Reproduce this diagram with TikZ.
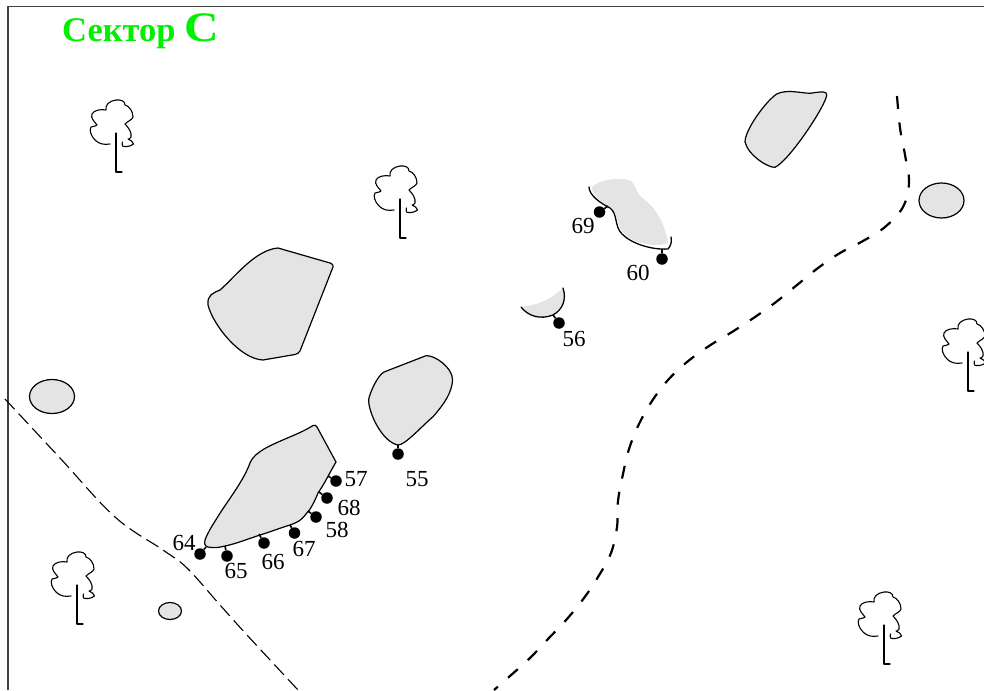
\documentclass[tikz,border=0pt]{standalone}
\usepackage{graphicx}
\usepackage{fontspec}
\setmainfont{Liberation Serif}
\definecolor{blobgray}{HTML}{E4E4E4}
\definecolor{titlegreen}{HTML}{00F000}
\tikzset{
  blob/.style={fill=blobgray,draw=black,line width=1.2pt,line join=round},
  blobfill/.style={fill=blobgray,draw=none},
  edgeline/.style={draw=black,line width=1.3pt,line cap=round},
  sitedot/.style={circle,fill=black,inner sep=0pt,minimum size=11.5pt},
  stem/.style={draw=black,line width=1.6pt},
  numlabel/.style={font=\fontsize{23}{23}\selectfont,text=black,inner sep=0pt},
  treeline/.style={draw=black,line width=1.1pt,line cap=round,line join=round},
  framed/.style={draw=black!75,line width=1.2pt},
  pics/treemark/.style={code={
    \draw[treeline] (0,0) -- (0,39) -- (6,39);
    \draw[treeline] (-6,11) .. controls (-12,12) and (-17,11) .. (-21,7)
      .. controls (-25,3) and (-27,-3) .. (-25,-6) .. controls (-22,-7) and (-19,-7) .. (-19,-8)
      .. controls (-21,-11) and (-26,-15) .. (-24,-19) .. controls (-22,-23) and (-15,-24) .. (-10,-23)
      .. controls (-11,-28) and (-7,-32) .. (0,-33) .. controls (5,-33.500) and (9,-32) .. (9,-28)
      .. controls (13,-27) and (17,-22) .. (17,-16) .. controls (16,-13) and (12,-12) .. (9,-9)
      .. controls (13,-5) and (16,0) .. (15,4) .. controls (14,6) and (13,6) .. (12,6)
      .. controls (15,7) and (17,9) .. (17.500,11) .. controls (14,14) and (8,14) .. (6.500,13) .. controls (6,11) and (6,10) .. (6.500,9);
  }}
}
\begin{document}
\begin{tikzpicture}[x=1pt,y=-1pt]
\useasboundingbox (0,0) rectangle (984,690);
\clip (0,0) rectangle (984,690);
\draw[framed] (8,690) -- (8,6.500) -- (984,6.500);
\node[anchor=base west,inner sep=0pt,text=titlegreen,font=\bfseries] (title) at (62,42)
  {\fontsize{34.500}{36}\selectfont Сектор \fontsize{42}{42}\selectfont\scalebox{1.14}[1]{С}};

% roads
\draw[black,line width=1.1pt,dash pattern=on 14pt off 6pt]
  plot[smooth,tension=0.6] coordinates {(5,399) (60,458) (115,517) (163,550) (187,568) (220,605) (247,635) (298,690)};
\draw[black,line width=2.2pt,dash pattern=on 13pt off 13.500pt]
  plot[smooth,tension=0.6] coordinates {(897,96) (900,128) (905,155) (909,182) (903,207) (885,227) (863,241) (840,253) (818,268) (797,285) (776,302) (755,317) (732,332) (709,346) (687,362) (668,380) (652,401) (639,424) (629,449) (623,474) (618,501) (617,527) (611,553) (598,577) (584,598) (567,619) (548,639) (530,658) (510,676) (494,690)};

% ponds
\draw[blob] (941.5,200.5) ellipse [x radius=22.5,y radius=17.5];
\draw[blob] (52,396.5) ellipse [x radius=22.5,y radius=17];
\draw[blob] (170,611) ellipse [x radius=11.5,y radius=8.5];

% large blobs
\draw[blob] (278,248) -- (330,263) .. controls (333,264) and (333.500,266) .. (333,267) -- (300,351)
  .. controls (299,353) and (297,354) .. (295,354.500) -- (263,360)
  .. controls (240,359) and (213,325) .. (208,305) .. controls (207,295) and (213,293) .. (220,290)
  .. controls (235,277) and (255,250) .. (278,248) -- cycle;
\draw[blob] (426,355.7) -- (384,372) .. controls (378,375) and (370,392) .. (368.7,399.3)
  .. controls (368,412) and (382,442) .. (398,445) .. controls (405,445) and (420,428) .. (433,416.7)
  .. controls (445,403) and (452,392) .. (452.5,380) .. controls (453,368) and (435,355) .. (426,355.7) -- cycle;
\draw[blob] (313,425.500) .. controls (315,425) and (316,425) .. (317,427) -- (336,462) .. controls (330,472) and (325,483) .. (318,493)
  .. controls (314,503) and (310,510) .. (306,514) .. controls (300,522) and (295,523) .. (290,525)
  .. controls (280,528) and (270,532) .. (260,535) .. controls (245,540) and (235,544) .. (225,546)
  .. controls (218,548) and (212,548) .. (208,547) .. controls (204,546) and (204,542) .. (205,540)
  .. controls (208,532) and (212,526) .. (217,518) .. controls (228,500) and (243,482) .. (250,463)
  .. controls (253,456) and (258,453) .. (264,449) .. controls (280,440) and (300,434) .. (313,425.500) -- cycle;
\draw[blob] (826.7,95) .. controls (827,91) and (822,91.5) .. (810,93.3) .. controls (800,93) and (787,89) .. (776.7,94)
  .. controls (765,102) and (745,130) .. (745,142) .. controls (748,155) and (768,168) .. (775,167.3)
  .. controls (790,160) and (826,105) .. (826.7,95) -- cycle;

% half-outlined blobs
\fill[blobfill] (592,187) .. controls (598,180) and (622,176) .. (631,181) .. controls (637,186) and (634,192) .. (645,200)
  .. controls (658,210) and (666,228) .. (668,243) .. controls (655,248) and (630,243) .. (622,231)
  .. controls (616,222) and (618,214) .. (610,207) .. controls (600,201) and (592,195) .. (592,187) -- cycle;
\draw[edgeline] (589,187) .. controls (589,195) and (600,203) .. (610,208) .. controls (618,214) and (614,226) .. (622,234)
  .. controls (632,244) and (652,250) .. (668,249) .. controls (671,246) and (672,241) .. (671,237);
\fill[blobfill] (522,307) .. controls (540,304) and (550,300) .. (563,288)
  .. controls (565,300) and (562,306) .. (553,315) .. controls (545,319) and (530,318) .. (522,307) -- cycle;
\draw[edgeline] (521,307) .. controls (528,316) and (540,320) .. (553,315)
  .. controls (562,310) and (567,300) .. (563,288);

% site markers
\coordinate (s57) at (328,476);
\coordinate (s68) at (319,492);
\coordinate (s58) at (308,511);
\coordinate (s67) at (290,525);
\coordinate (s66) at (259,534);
\coordinate (s65) at (225,546);
\coordinate (s64) at (206,547);
\coordinate (s69) at (608,206);
\coordinate (s60) at (662,249);
\coordinate (s56) at (553,315);
\coordinate (s55) at (398,445);
\node[sitedot] (d57) at (336,481) {};
\node[sitedot] (d68) at (327,498) {};
\node[sitedot] (d58) at (316,517) {};
\node[sitedot] (d67) at (294.5,533) {};
\node[sitedot] (d66) at (264,543) {};
\node[sitedot] (d65) at (227,556) {};
\node[sitedot] (d64) at (200,554) {};
\node[sitedot] (d69) at (599.500,212) {};
\node[sitedot] (d60) at (662,259) {};
\node[sitedot] (d56) at (559,323) {};
\node[sitedot] (d55) at (398,454) {};
\foreach \n in {57,68,58,67,66,65,64,69,60,56,55} \draw[stem] (s\n) -- (d\n);
\node[numlabel] (l57) at (356,479) {57};
\node[numlabel] (l68) at (349,508) {68};
\node[numlabel] (l58) at (337,530) {58};
\node[numlabel] (l67) at (304,549) {67};
\node[numlabel] (l66) at (273,562) {66};
\node[numlabel] (l65) at (236,571) {65};
\node[numlabel] (l64) at (184,543) {64};
\node[numlabel] (l69) at (583,226) {69};
\node[numlabel] (l60) at (638,273) {60};
\node[numlabel] (l56) at (574,339) {56};
\node[numlabel] (l55) at (417,479) {55};

% trees
\pic at (116,133) {treemark};
\pic at (400,199) {treemark};
\pic at (77,585) {treemark};
\pic at (884,625) {treemark};
\pic at (968,352) {treemark};
\end{tikzpicture}
\end{document}
